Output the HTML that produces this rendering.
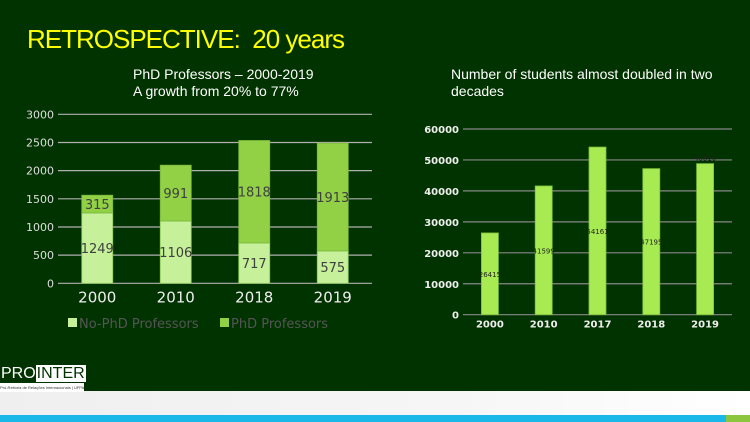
<!DOCTYPE html>
<html><head><meta charset="utf-8"><style>
body{margin:0;width:750px;height:422px;overflow:hidden;background:#013300;font-family:"Liberation Sans",sans-serif;position:relative}
.abs{position:absolute}
</style></head><body>
<div class="abs" style="left:27px;top:24px;font-size:26px;color:#ffff00;letter-spacing:-1px;white-space:pre">RETROSPECTIVE:  20 years</div>
<div class="abs" style="left:133px;top:66px;font-size:14px;color:#fff;line-height:17px">PhD Professors – 2000-2019<br>A growth from  20% to  77%</div>
<div class="abs" style="left:451px;top:66px;font-size:14px;color:#fff;line-height:17px;width:280px">Number of students almost doubled in two decades</div>
<svg class="abs" style="left:0;top:0" width="750" height="422">
<g id="left"></g>
<g id="right"></g>
</svg>
<div class="abs" style="left:0;top:391px;width:750px;height:24px;background:linear-gradient(90deg,#efefef,#f6f6f6 60%,#fff)"></div>
<div class="abs" style="left:0;top:415px;width:726px;height:7px;background:#1ab8e8"></div>
<div class="abs" style="left:726px;top:415px;width:24px;height:7px;background:#8cc63f"></div>
<div class="abs" style="left:1px;top:365px;font-size:16px;color:#fff;line-height:17px">PRO<span style="background:#fff;color:#013300;padding:0 1px">INTER</span></div>
<div class="abs" style="left:0;top:383px;width:84px;height:9px;background:#fff;font-size:4px;color:#333;line-height:9px;white-space:nowrap;overflow:hidden">Pró-Reitoria de Relações Internacionais | UFPA</div>
<script>
const NS="http://www.w3.org/2000/svg";
const lCats=["2000","2010","2018","2019"];
const noPhd=[1249,1106,717,575];
const phd=[315,991,1818,1913];
const lTicks=[0,500,1000,1500,2000,2500,3000];
const rCats=["2000","2010","2017","2018","2019"];
const students=[26415,41599,54161,47195,48810];
const rTicks=[0,10000,20000,30000,40000,50000,60000];
function mk(p,t,a,txt){const e=document.createElementNS(NS,t);for(const k in a)e.setAttribute(k,a[k]);if(txt!==undefined)e.textContent=txt;p.appendChild(e);return e;}
// left
const L=document.getElementById('left');
const lx0=58,lx1=372,ly0=283.3,ly1=114.3,lmax=3000;
const ly=v=>ly0-(v/lmax)*(ly0-ly1);
const lbw=(lx1-lx0)/lCats.length;
lTicks.forEach(t=>{
 const g=mk(L,'line',{x1:lx0,x2:lx1,y1:ly(t),y2:ly(t),stroke:'#b0b0b0','stroke-width':1.2});
 
 const tx=mk(L,'text',{x:lx0-4,y:ly(t)+4,'text-anchor':'end','font-size':11,fill:'#ddd','font-family':'DejaVu Sans,sans-serif'},t);
 
});
lCats.forEach((c,i)=>{
 const cx=lx0+lbw*(i+0.5),w=31;
 const r1=mk(L,'rect',{x:cx-w/2,y:ly(noPhd[i]),width:w,height:ly0-ly(noPhd[i]),fill:'#c6f09a',stroke:'#8cc850','stroke-width':0.8});
 
 const top=noPhd[i]+phd[i];
 const r2=mk(L,'rect',{x:cx-w/2,y:ly(top),width:w,height:ly(noPhd[i])-ly(top),fill:'#92d146',stroke:'#7ab83a','stroke-width':0.8});
 
 const t1=mk(L,'text',{x:cx,y:ly(noPhd[i]/2)+5,'text-anchor':'middle','font-size':13,fill:'#404040','font-family':'DejaVu Sans,sans-serif'},noPhd[i]);
 
 const t2=mk(L,'text',{x:cx,y:ly(noPhd[i]+phd[i]/2)+5,'text-anchor':'middle','font-size':13,fill:'#404040','font-family':'DejaVu Sans,sans-serif'},phd[i]);
 
 const xl=mk(L,'text',{x:cx,y:ly0+19,'text-anchor':'middle','font-size':15,fill:'#eee','font-family':'DejaVu Sans,sans-serif'},c);
 
});
const lg1=mk(L,'rect',{x:68,y:318,width:9,height:9,fill:'#c6f09a'});

const lt1=mk(L,'text',{x:79,y:328,'font-size':13,fill:'#555','font-family':'DejaVu Sans,sans-serif'},'No-PhD Professors');

const lg2=mk(L,'rect',{x:220,y:318,width:9,height:9,fill:'#92d146'});

const lt2=mk(L,'text',{x:231,y:328,'font-size':13,fill:'#555','font-family':'DejaVu Sans,sans-serif'},'PhD Professors');

// right
const R=document.getElementById('right');
const rx0=463,rx1=732,ry0=314.7,ry1=129,rmax=60000;
const ry=v=>ry0-(v/rmax)*(ry0-ry1);
const rbw=(rx1-rx0)/rCats.length;
rTicks.forEach(t=>{
 const g=mk(R,'line',{x1:rx0,x2:rx1,y1:ry(t),y2:ry(t),stroke:'#888','stroke-width':1.2});
 
 const tx=mk(R,'text',{x:rx0-4,y:ry(t)+4,'text-anchor':'end','font-size':10,'font-weight':'bold',fill:'#eee','font-family':'DejaVu Sans,sans-serif'},t);
 
});
students.forEach((v,i)=>{
 const cx=rx0+rbw*(i+0.5),w=17;
 const r=mk(R,'rect',{x:cx-w/2,y:ry(v),width:w,height:ry0-ry(v),fill:'#a8ea52',stroke:'#7cc03a','stroke-width':0.8});
 
 const ty=i===students.length-1?ry(v)-3:ry(v/2)+3;
 const t=mk(R,'text',{x:cx,y:ty,'text-anchor':'middle','font-size':7,fill:'#222','font-family':'DejaVu Sans,sans-serif'},v);
 
 const xl=mk(R,'text',{x:cx,y:ry0+13,'text-anchor':'middle','font-size':10,'font-weight':'bold',fill:'#eee','font-family':'DejaVu Sans,sans-serif'},rCats[i]);
 
});
</script>
</body></html>
